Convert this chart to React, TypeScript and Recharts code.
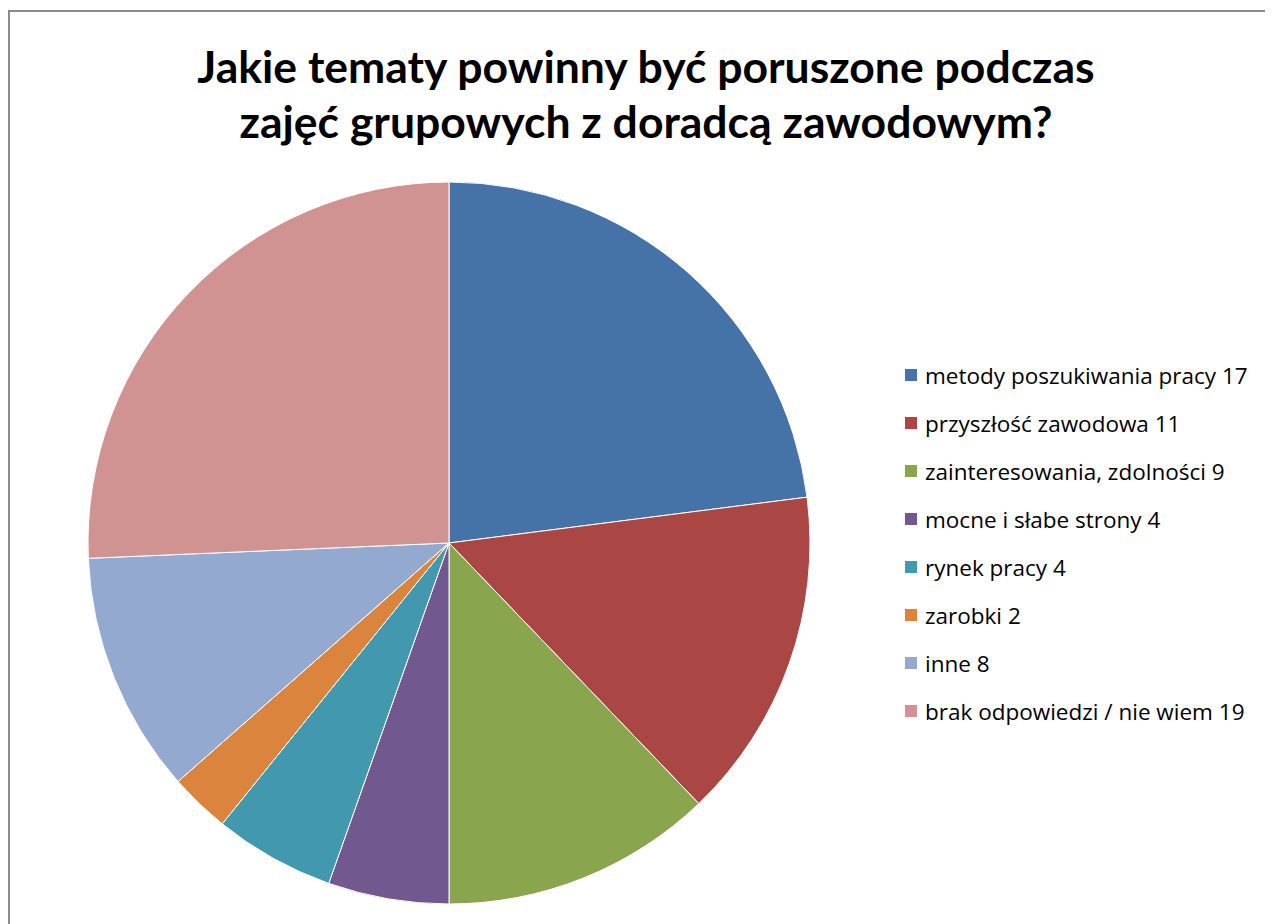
import { PieChart, Pie, Cell, Legend } from "recharts";

const CATEGORIES = [
  "metody poszukiwania pracy 17",
  "przyszłość zawodowa 11",
  "zainteresowania, zdolności 9",
  "mocne i słabe strony 4",
  "rynek pracy 4",
  "zarobki 2",
  "inne 8",
  "brak odpowiedzi / nie wiem 19",
];

const VALUES = [17, 11, 9, 4, 4, 2, 8, 19];

const COLORS = [
  "#4572A7",
  "#AA4643",
  "#89A54E",
  "#71588F",
  "#4198AF",
  "#DB843D",
  "#93A9CF",
  "#D19392",
];

const TITLE_LINES = [
  "Jakie tematy powinny być poruszone podczas",
  "zajęć grupowych z doradcą zawodowym?",
];

const data = CATEGORIES.map((name, i) => ({ name, value: VALUES[i] }));

const TITLE_FONT = "Lato, 'Open Sans', sans-serif";
const LEGEND_FONT = "'Open Sans', Lato, sans-serif";

// legend keeps the original series order (recharts would sort it by name)
function renderLegend() {
  return (
    <div style={{ fontFamily: LEGEND_FONT, fontSize: 22.5, color: "#000" }}>
      {CATEGORIES.map((name, i) => (
        <div
          key={name}
          style={{ display: "flex", alignItems: "center", height: 48 }}
        >
          <span
            style={{
              width: 12,
              height: 12,
              background: COLORS[i],
              marginRight: 8,
              flexShrink: 0,
            }}
          />
          <span style={{ whiteSpace: "nowrap" }}>{name}</span>
        </div>
      ))}
    </div>
  );
}

export default function App() {
  return (
    <div
      style={{
        position: "relative",
        width: 1265,
        height: 916,
        overflow: "hidden",
        background: "#fff",
      }}
    >
      <div
        style={{
          position: "absolute",
          left: 0,
          top: 2,
          width: 2000,
          height: 2000,
          border: "2px solid #8c8c8c",
        }}
      />
      <div
        style={{
          position: "absolute",
          left: 138,
          width: 1000,
          top: 30,
          textAlign: "center",
          fontFamily: TITLE_FONT,
          fontWeight: 700,
          fontSize: 44.5,
          lineHeight: "55px",
          color: "#000",
          whiteSpace: "nowrap",
        }}
      >
        {TITLE_LINES.map((l) => (
          <div key={l}>{l}</div>
        ))}
      </div>
      <div style={{ position: "absolute", left: 0, top: 0 }}>
        <PieChart
          width={1265}
          height={916}
          margin={{ top: 0, right: 0, bottom: 0, left: 0 }}
        >
          <Pie
            data={data}
            dataKey="value"
            nameKey="name"
            cx={441}
            cy={535}
            outerRadius={361}
            startAngle={90}
            endAngle={-270}
            stroke="#fff"
            strokeWidth={1}
            isAnimationActive={false}
          >
            {data.map((d, i) => (
              <Cell key={d.name} fill={COLORS[i]} />
            ))}
          </Pie>
          <Legend
            content={renderLegend}
            wrapperStyle={{ position: "absolute", left: 897, top: 343, width: 368 }}
          />
        </PieChart>
      </div>
    </div>
  );
}
